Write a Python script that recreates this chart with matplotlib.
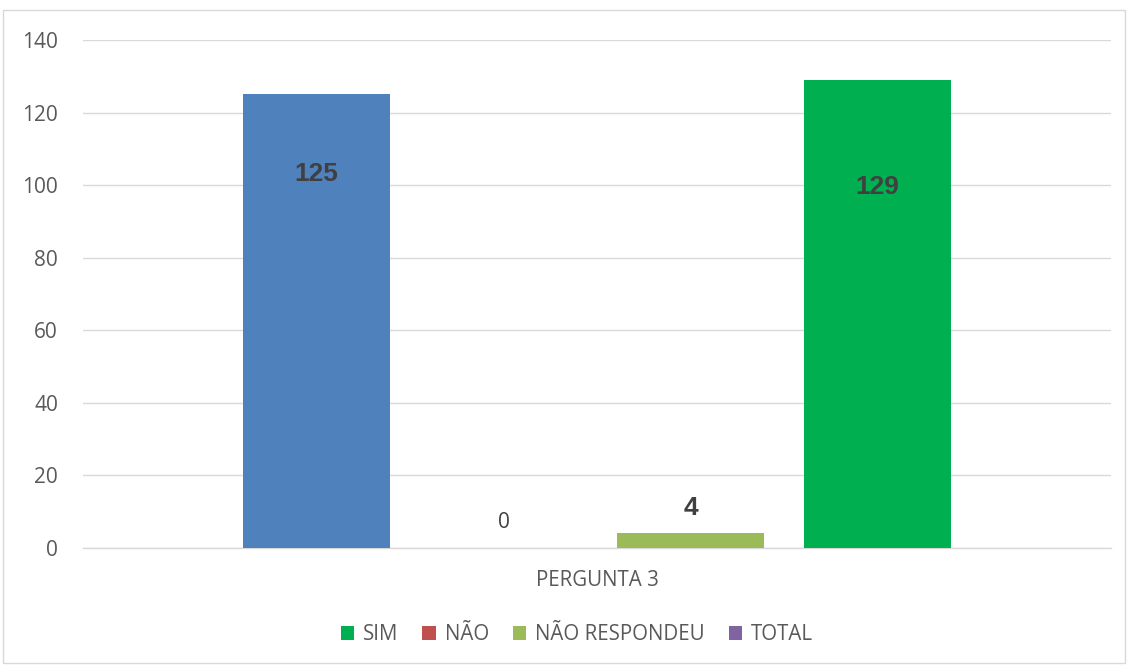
import matplotlib
matplotlib.use("Agg")
import matplotlib.pyplot as plt
from matplotlib.patches import Patch, Rectangle

# Data
question = "PERGUNTA 3"
series = ["SIM", "NÃO", "NÃO RESPONDEU", "TOTAL"]
values = [125, 0, 4, 129]
yticks = [0, 20, 40, 60, 80, 100, 120, 140]

# Styles
bar_colors = ["#4F81BD", "#C0504D", "#9BBB59", "#00B050"]
legend_colors = ["#00B050", "#C0504D", "#9BBB59", "#8064A2"]
label_offsets_px = [-80, 25, 25, -107]   # label centre relative to bar top
label_bold = [True, False, True, True]

W, H, DPI = 1129, 666, 100
fig = plt.figure(figsize=(W / DPI, H / DPI), dpi=DPI)
fig.patch.set_facecolor("white")

# outer chart border
fig.add_artist(Rectangle((3 / W, 1 - 663 / H), 1122 / W, 653 / H,
                         transform=fig.transFigure, fill=False,
                         edgecolor="#D9D9D9", linewidth=1.0))

left, right, top, bottom = 83, 1111, 40, 548
ax = fig.add_axes([left / W, 1 - bottom / H, (right - left) / W, (bottom - top) / H])

x = list(range(len(values)))
ax.bar(x, values, width=0.787, color=bar_colors, zorder=3)
ax.set_xlim(-1.25, 4.25)
ax.set_ylim(0, 140)

ax.set_yticks(yticks)
ax.set_yticklabels([str(t) for t in yticks], fontfamily="Open Sans",
                   fontsize=15, color="#595959")
ax.tick_params(axis="y", length=0, pad=18)
ax.set_xticks([1.5])
ax.set_xticklabels([question], fontfamily="Open Sans", fontsize=14.8, color="#595959")
ax.tick_params(axis="x", length=0, pad=16)

ax.grid(axis="y", color="#D9D9D9", linewidth=1.0, zorder=0)
for s in ["top", "right", "left"]:
    ax.spines[s].set_visible(False)
ax.spines["bottom"].set_color("#D9D9D9")
ax.spines["bottom"].set_linewidth(1.0)
ax.set_facecolor("none")

for xi, v, off, b in zip(x, values, label_offsets_px, label_bold):
    ax.annotate(str(v), xy=(xi, v), xytext=(0, off * 72 / DPI),
                textcoords="offset points", ha="center", va="center",
                fontfamily="Liberation Sans" if b else "Open Sans",
                fontweight="bold" if b else "normal",
                fontsize=19 if b else 15, color="#404040", zorder=4)

handles = [Patch(facecolor=c, edgecolor="none") for c in legend_colors]
fig.legend(handles, series, loc="center", bbox_to_anchor=(577 / W, 1 - 635 / H),
           ncol=4, frameon=False, handlelength=0.65, handleheight=0.65,
           handletextpad=0.45, columnspacing=1.15,
           prop={"family": "Open Sans", "size": 14.8}, labelcolor="#595959")

fig.savefig("out.png", dpi=DPI, facecolor="white")
